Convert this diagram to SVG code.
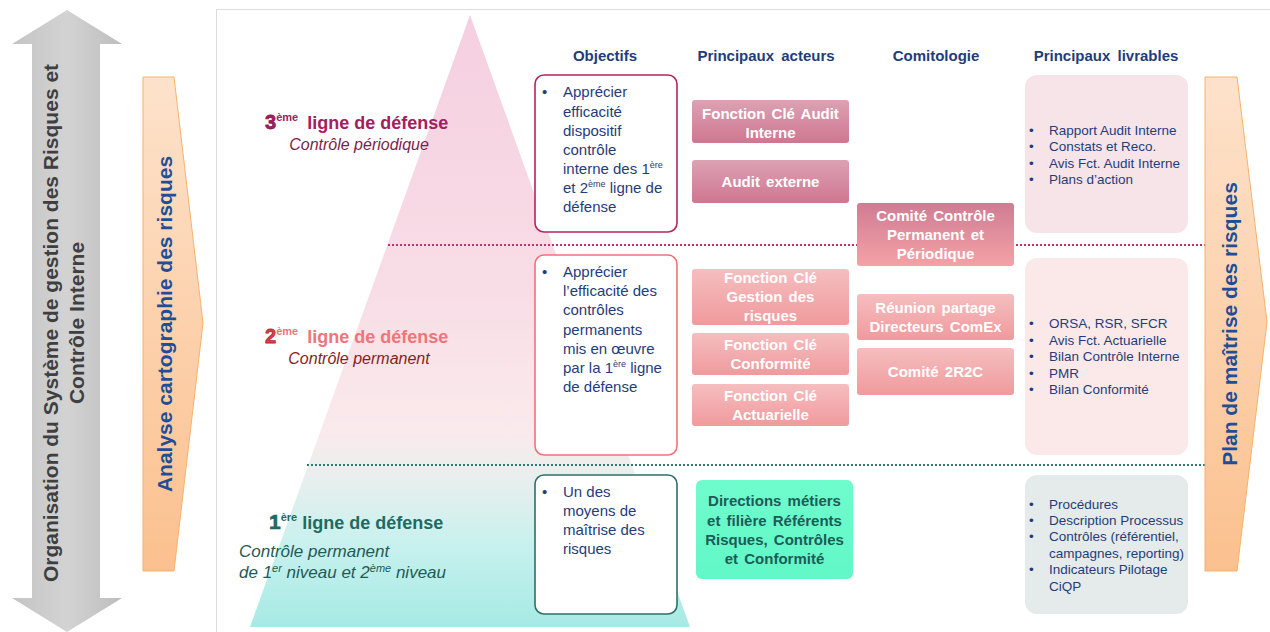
<svg xmlns="http://www.w3.org/2000/svg" width="1270" height="632" viewBox="0 0 1270 632">
<defs>
<linearGradient id="gPyr" x1="0" y1="15" x2="0" y2="627" gradientUnits="userSpaceOnUse">
<stop offset="0" stop-color="#f5cfe0"/>
<stop offset="0.45" stop-color="#f8dde6"/>
<stop offset="0.68" stop-color="#faeaec"/>
<stop offset="0.76" stop-color="#e8efee"/>
<stop offset="0.86" stop-color="#c9f1ee"/>
<stop offset="1" stop-color="#a6eae5"/>
</linearGradient>
<linearGradient id="gOrange" x1="0" y1="0" x2="0" y2="1">
<stop offset="0" stop-color="#fde2cb"/>
<stop offset="1" stop-color="#fbc08e"/>
</linearGradient>
<linearGradient id="gGray" x1="0" y1="0" x2="1" y2="0">
<stop offset="0" stop-color="#c4c4c4"/>
<stop offset="0.5" stop-color="#d3d3d3"/>
<stop offset="1" stop-color="#bdbdbd"/>
</linearGradient>
<linearGradient id="gAudit" x1="0" y1="0" x2="0" y2="1">
<stop offset="0" stop-color="#dca2b4"/>
<stop offset="1" stop-color="#cf7690"/>
</linearGradient>
<linearGradient id="gFct" x1="0" y1="0" x2="0" y2="1">
<stop offset="0" stop-color="#f5bebf"/>
<stop offset="1" stop-color="#f09a9d"/>
</linearGradient>
<linearGradient id="gComite" x1="0" y1="0" x2="0" y2="1">
<stop offset="0" stop-color="#cf7c94"/>
<stop offset="1" stop-color="#f4a2a6"/>
</linearGradient>
<linearGradient id="gDir" x1="0" y1="0" x2="0" y2="1">
<stop offset="0" stop-color="#6ffccd"/>
<stop offset="1" stop-color="#62f7c6"/>
</linearGradient>
</defs>
<style>
text{font-family:"Liberation Sans",Arial,sans-serif;}
.hdr{font-size:15px;font-weight:bold;fill:#1f3d7a;text-anchor:middle;word-spacing:3px;}
.obj{font-size:15px;fill:#1f3d7a;}
.act{font-size:15px;font-weight:bold;fill:#ffffff;text-anchor:middle;word-spacing:2px;}
.dir{font-size:15px;font-weight:bold;fill:#1d5c57;text-anchor:middle;word-spacing:2px;}
.liv{font-size:13.5px;fill:#1f3d7a;}
.objbox{fill:#ffffff;stroke-width:1.6;}
.livbox{stroke:none;}
.sep{fill:none;stroke-width:2;stroke-dasharray:2 2;}
.ora{fill:url(#gOrange);stroke:#f6b26b;stroke-width:1;}
.big{font-size:21px;font-weight:bold;fill:#1f4e99;text-anchor:middle;}
.org{font-size:21px;font-weight:bold;fill:#3f3f3f;text-anchor:middle;}
</style>
<rect x="0" y="0" width="1270" height="632" fill="#ffffff"/>
<rect x="216.5" y="9.5" width="1070" height="630" fill="none" stroke="#dcdcdc" stroke-width="1"/>

<g id="arrow-organisation">
<path d="M67,10 L122,44 L100,44 L100,598 L122,598 L67,632 L12,598 L32,598 L32,44 L12,44 Z" fill="url(#gGray)"/>
<text class="org" transform="translate(58,323) rotate(-90)">Organisation du Système de gestion des Risques et</text>
<text class="org" transform="translate(84,323) rotate(-90)">Contrôle Interne</text>
</g>

<g id="arrow-analyse">
<path class="ora" d="M143,77 L174,77 L203,323 L174,571 L143,571 Z"/>
<text class="big" transform="translate(172,324) rotate(-90)">Analyse cartographie des risques</text>
</g>

<g id="pyramid">
<path d="M470,15 L690,627 L250,627 Z" fill="url(#gPyr)"/>
</g>

<g id="separators">
<line class="sep" x1="388" y1="245" x2="1205" y2="245" stroke="#c2306e"/>
<line class="sep" x1="307" y1="465" x2="1205" y2="465" stroke="#2e7a72"/>
</g>

<g id="arrow-plan">
<path class="ora" d="M1205,77 L1237,77 L1267,322 L1237,571 L1205,571 Z"/>
<text class="big" transform="translate(1237,324) rotate(-90)">Plan de maîtrise des risques</text>
</g>

<g id="label-3">
<text x="265" y="129" font-size="18" font-weight="bold" fill="#a3205e"><tspan font-size="20" stroke="#8a1a4e" stroke-width="0.8">3</tspan><tspan font-size="11" dy="-8">ème</tspan><tspan dy="8" dx="4"> ligne de défense</tspan></text>
<text x="359" y="150" font-size="16" font-style="italic" fill="#7d1e4a" text-anchor="middle">Contrôle périodique</text>
</g>
<g id="label-2">
<text x="265" y="343" font-size="18" font-weight="bold" fill="#f0757a"><tspan font-size="20" fill="#d8434a" stroke="#b52a32" stroke-width="0.8">2</tspan><tspan font-size="11" dy="-8">ème</tspan><tspan dy="8" dx="4"> ligne de défense</tspan></text>
<text x="359" y="364" font-size="16" font-style="italic" fill="#8a1c1c" text-anchor="middle">Contrôle permanent</text>
</g>
<g id="label-1">
<text x="269" y="529" font-size="18" font-weight="bold" fill="#1e6b62"><tspan font-size="21" stroke="#1e6b62" stroke-width="0.6">1</tspan><tspan font-size="11" dy="-8">ère</tspan><tspan dy="8"> ligne de défense</tspan></text>
<text x="239" y="557" font-size="17" font-style="italic" fill="#1f5a55">Contrôle permanent</text>
<text x="239" y="578" font-size="17" font-style="italic" fill="#1f5a55">de 1<tspan font-size="11" dy="-6">er</tspan><tspan dy="6"> niveau et 2</tspan><tspan font-size="11" dy="-6">ème</tspan><tspan dy="6"> niveau</tspan></text>
</g>

<g id="headers">
<text class="hdr" x="605" y="61">Objectifs</text>
<text class="hdr" x="766" y="61">Principaux acteurs</text>
<text class="hdr" x="936" y="61">Comitologie</text>
<text class="hdr" x="1106" y="61">Principaux livrables</text>
</g>

<g id="obj-3">
<rect class="objbox" x="535" y="75" width="142" height="157" rx="9" stroke="#b5245e"/>
<text class="obj" x="542" y="97">•</text>
<text class="obj" x="563" y="97">Apprécier</text>
<text class="obj" x="563" y="117">efficacité</text>
<text class="obj" x="563" y="136">dispositif</text>
<text class="obj" x="563" y="155">contrôle</text>
<text class="obj" x="563" y="174">interne des 1<tspan font-size="9" dy="-6">ère</tspan></text>
<text class="obj" x="563" y="193">et 2<tspan font-size="9" dy="-6">ème</tspan><tspan dy="6"> ligne de</tspan></text>
<text class="obj" x="563" y="212">défense</text>
</g>
<g id="obj-2">
<rect class="objbox" x="535" y="255" width="142" height="200" rx="9" stroke="#ef7378"/>
<text class="obj" x="542" y="277">•</text>
<text class="obj" x="563" y="277">Apprécier</text>
<text class="obj" x="563" y="296">l’efficacité des</text>
<text class="obj" x="563" y="315">contrôles</text>
<text class="obj" x="563" y="335">permanents</text>
<text class="obj" x="563" y="354">mis en œuvre</text>
<text class="obj" x="563" y="373">par la 1<tspan font-size="9" dy="-6">ère</tspan><tspan dy="6"> ligne</tspan></text>
<text class="obj" x="563" y="392">de défense</text>
</g>
<g id="obj-1">
<rect class="objbox" x="535" y="475" width="142" height="139" rx="9" stroke="#2f6f69"/>
<text class="obj" x="542" y="497">•</text>
<text class="obj" x="563" y="497">Un des</text>
<text class="obj" x="563" y="516">moyens de</text>
<text class="obj" x="563" y="535">maîtrise des</text>
<text class="obj" x="563" y="554">risques</text>
</g>

<g id="act-audit-interne">
<rect x="692" y="100" width="157" height="43" rx="3" fill="url(#gAudit)"/>
<text class="act" x="770.5" y="119">Fonction Clé Audit</text>
<text class="act" x="770.5" y="138">Interne</text>
</g>
<g id="act-audit-externe">
<rect x="692" y="160" width="157" height="43" rx="3" fill="url(#gAudit)"/>
<text class="act" x="770.5" y="187">Audit externe</text>
</g>
<g id="act-gestion-risques">
<rect x="692" y="269" width="157" height="56" rx="3" fill="url(#gFct)"/>
<text class="act" x="770.5" y="283">Fonction Clé</text>
<text class="act" x="770.5" y="302">Gestion des</text>
<text class="act" x="770.5" y="321">risques</text>
</g>
<g id="act-conformite">
<rect x="692" y="333" width="157" height="42" rx="3" fill="url(#gFct)"/>
<text class="act" x="770.5" y="350">Fonction Clé</text>
<text class="act" x="770.5" y="369">Conformité</text>
</g>
<g id="act-actuarielle">
<rect x="692" y="384" width="157" height="42" rx="3" fill="url(#gFct)"/>
<text class="act" x="770.5" y="401">Fonction Clé</text>
<text class="act" x="770.5" y="420">Actuarielle</text>
</g>
<g id="act-directions">
<rect x="696" y="480" width="157" height="99" rx="6" fill="url(#gDir)"/>
<text class="dir" x="774.5" y="506">Directions métiers</text>
<text class="dir" x="774.5" y="526">et filière Référents</text>
<text class="dir" x="774.5" y="545">Risques, Contrôles</text>
<text class="dir" x="774.5" y="564">et Conformité</text>
</g>

<g id="com-ccpp">
<rect x="857" y="203" width="157" height="63" rx="3" fill="url(#gComite)"/>
<text class="act" x="935.5" y="221">Comité Contrôle</text>
<text class="act" x="935.5" y="240">Permanent et</text>
<text class="act" x="935.5" y="259">Périodique</text>
</g>
<g id="com-reunion">
<rect x="857" y="294" width="157" height="46" rx="3" fill="url(#gFct)"/>
<text class="act" x="935.5" y="313">Réunion partage</text>
<text class="act" x="935.5" y="332">Directeurs ComEx</text>
</g>
<g id="com-2r2c">
<rect x="857" y="348" width="157" height="47" rx="3" fill="url(#gFct)"/>
<text class="act" x="935.5" y="377">Comité 2R2C</text>
</g>

<g id="liv-3">
<rect class="livbox" x="1025" y="75" width="163" height="158" rx="12" fill="#f6e4e9"/>
<text class="liv" x="1029" y="134.5">•</text><text class="liv" x="1049" y="134.5">Rapport Audit Interne</text>
<text class="liv" x="1029" y="150.5">•</text><text class="liv" x="1049" y="150.5">Constats et Reco.</text>
<text class="liv" x="1029" y="167.5">•</text><text class="liv" x="1049" y="167.5">Avis Fct. Audit Interne</text>
<text class="liv" x="1029" y="183.5">•</text><text class="liv" x="1049" y="183.5">Plans d’action</text>
</g>
<g id="liv-2">
<rect class="livbox" x="1025" y="258" width="163" height="197" rx="12" fill="#fbe9ea"/>
<text class="liv" x="1029" y="327.5">•</text><text class="liv" x="1049" y="327.5">ORSA, RSR, SFCR</text>
<text class="liv" x="1029" y="344.5">•</text><text class="liv" x="1049" y="344.5">Avis Fct. Actuarielle</text>
<text class="liv" x="1029" y="360.5">•</text><text class="liv" x="1049" y="360.5">Bilan Contrôle Interne</text>
<text class="liv" x="1029" y="377.5">•</text><text class="liv" x="1049" y="377.5">PMR</text>
<text class="liv" x="1029" y="393.5">•</text><text class="liv" x="1049" y="393.5">Bilan Conformité</text>
</g>
<g id="liv-1">
<rect class="livbox" x="1025" y="475" width="163" height="139" rx="12" fill="#e5eaea"/>
<text class="liv" x="1029" y="508.5">•</text><text class="liv" x="1049" y="508.5">Procédures</text>
<text class="liv" x="1029" y="524.5">•</text><text class="liv" x="1049" y="524.5">Description Processus</text>
<text class="liv" x="1029" y="540.5">•</text><text class="liv" x="1049" y="540.5">Contrôles (référentiel,</text>
<text class="liv" x="1049" y="557.5">campagnes, reporting)</text>
<text class="liv" x="1029" y="573.5">•</text><text class="liv" x="1049" y="573.5">Indicateurs Pilotage</text>
<text class="liv" x="1049" y="590.5">CiQP</text>
</g>
</svg>
